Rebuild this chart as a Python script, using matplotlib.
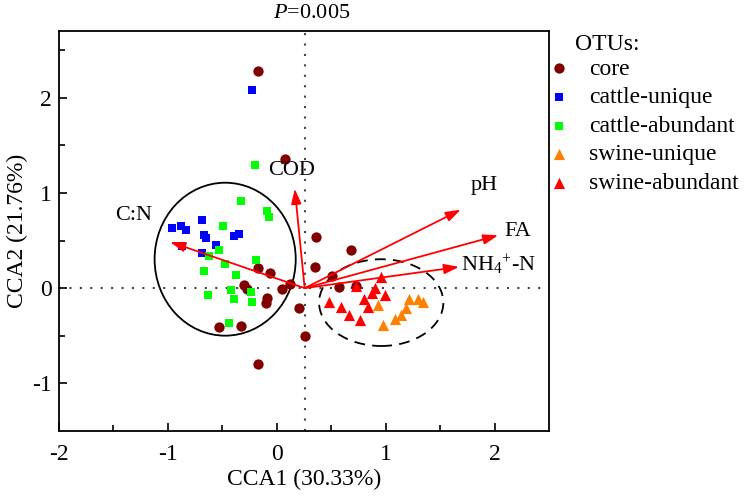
import matplotlib
matplotlib.use("Agg")
import matplotlib.pyplot as plt
from matplotlib.patches import Ellipse

plt.rcParams['font.family'] = ['Liberation Serif', 'DejaVu Serif']
plt.rcParams['mathtext.fontset'] = 'custom'
plt.rcParams['mathtext.rm'] = 'Liberation Serif'
plt.rcParams['mathtext.it'] = 'Liberation Serif:italic'
plt.rcParams['axes.unicode_minus'] = False

# ---------------- data ----------------
core_x = [-0.168, 0.080, -0.177, -0.061, -0.299, -0.277, -0.094, -0.103, 0.049, 0.125,
          0.201, 0.256, -0.533, -0.329, -0.174, 0.363, 0.348, 0.683, 0.506, 0.570, 0.729]
core_y = [2.283, 1.361, 0.213, 0.154, 0.031, -0.010, -0.108, -0.160, -0.010, 0.039,
          -0.213, -0.499, -0.405, -0.394, -0.799, 0.537, 0.223, 0.405, 0.126, 0.014, 0.021]

cu_x = [-0.963, -0.881, -0.835, -0.689, -0.665, -0.650, -0.558, -0.391, -0.348, -0.872, -0.689, -0.231]
cu_y = [0.631, 0.649, 0.607, 0.712, 0.555, 0.527, 0.458, 0.545, 0.565, 0.440, 0.370, 2.080]

ca_x = [-0.332, -0.094, -0.070, -0.497, -0.533, -0.619, -0.473, -0.665, -0.378, -0.189,
        -0.634, -0.421, -0.393, -0.241, -0.226, -0.439, -0.201]
ca_y = [0.911, 0.810, 0.747, 0.649, 0.405, 0.335, 0.258, 0.178, 0.143, 0.293,
        -0.073, -0.021, -0.118, -0.045, -0.150, -0.363, 1.288]

su_x = [0.927, 1.211, 1.293, 1.339, 1.187, 1.141, 1.089, 0.973]
su_y = [-0.178, -0.115, -0.115, -0.143, -0.213, -0.283, -0.328, -0.387]

sa_x = [0.958, 0.729, 0.903, 0.872, 0.997, 0.805, 0.476, 0.592, 0.842, 0.662, 0.766]
sa_y = [0.112, 0.024, -0.003, -0.049, -0.073, -0.115, -0.150, -0.196, -0.196, -0.283, -0.335]

env_names = ['C:N', 'COD', 'pH', 'FA', 'NH$_4$$^{+}$-N']
env_x = [-0.979, 0.165, 1.690, 2.034, 1.674]
env_y = [0.485, 1.044, 0.824, 0.555, 0.223]
env_label_x = [-1.48, -0.08, 1.78, 2.09, 1.69]
env_label_y = [0.76, 1.24, 1.08, 0.60, 0.24]
origin = (0.256, 0.0)

series_labels = ['core', 'cattle-unique', 'cattle-abundant', 'swine-unique', 'swine-abundant']
p_text = '$P$=0.005'

# ---------------- figure ----------------
fig = plt.figure(figsize=(7.56, 4.96), dpi=100)
ax = fig.add_axes([59/756, 65/496, 490/756, 400/496])
ax.set_xlim(-2, 2.5)
ax.set_ylim(-1.5, 2.7)

ax.axvline(origin[0], color='#444444', lw=1.5, ls=(0, (1, 4)), zorder=1)
ax.axhline(0, color='#444444', lw=1.5, ls=(0, (1, 4)), zorder=1)

h1 = ax.scatter(core_x, core_y, s=55, marker='o', color='#800000', linewidths=0, zorder=3, label=series_labels[0])
h2 = ax.scatter(cu_x, cu_y, s=40, marker='s', color='#0000FF', linewidths=0, zorder=3, label=series_labels[1])
h3 = ax.scatter(ca_x, ca_y, s=40, marker='s', color='#00FF00', linewidths=0, zorder=3, label=series_labels[2])
h4 = ax.scatter(su_x, su_y, s=65, marker='^', color='#FF8000', linewidths=0, zorder=3, label=series_labels[3])
h5 = ax.scatter(sa_x, sa_y, s=65, marker='^', color='#FF0000', linewidths=0, zorder=3, label=series_labels[4])

ax.add_patch(Ellipse((-0.474, 0.304), 1.296, 1.606, fill=False, ec='black', lw=1.3, zorder=2))
ax.add_patch(Ellipse((0.959, -0.152), 1.141, 0.911, fill=False, ec='black', lw=1.3,
                     ls=(0, (6, 4)), zorder=2))

for name, ex, ey, lx, ly in zip(env_names, env_x, env_y, env_label_x, env_label_y):
    ax.annotate('', xy=(ex, ey), xytext=origin,
                arrowprops=dict(arrowstyle='-|>,head_length=0.75,head_width=0.25', color='#FF0000',
                                lw=1.3, shrinkA=0, shrinkB=0, mutation_scale=12), zorder=4)
    ax.text(lx, ly, name, fontsize=16, ha='left', va='center', zorder=5)

ax.set_xticks([-2, -1, 0, 1, 2])
ax.set_yticks([-1, 0, 1, 2])
ax.set_xticks([-1.5, -0.5, 0.5, 1.5], minor=True)
ax.set_yticks([-0.5, 0.5, 1.5, 2.5], minor=True)
ax.tick_params(which='both', direction='in', top=False, right=False, labelsize=17, width=1.2)
ax.tick_params(which='major', length=6)
ax.tick_params(which='minor', length=4)
ax.tick_params(axis='x', which='major', pad=9)
ax.tick_params(axis='y', which='major', pad=5)
for sp in ax.spines.values():
    sp.set_linewidth(1.3)

ax.set_xlabel('CCA1 (30.33%)', fontsize=17, labelpad=3)
ax.set_ylabel('CCA2 (21.76%)', fontsize=17, labelpad=3)

fig.text(312/756, 1 - 14/496, p_text, fontsize=16, ha='center', va='center')

fig.text(575/756, 1 - 45/496, 'OTUs:', fontsize=17, ha='left', va='center')
leg = fig.legend(handles=[h1, h2, h3, h4, h5], loc='upper left',
                 bbox_to_anchor=(547/756, 1 - 58/496), frameon=False, fontsize=17,
                 handlelength=1.0, handletextpad=0.8, labelspacing=0.3, borderpad=0,
                 borderaxespad=0, scatterpoints=1)

fig.savefig('out.png', dpi=100)
